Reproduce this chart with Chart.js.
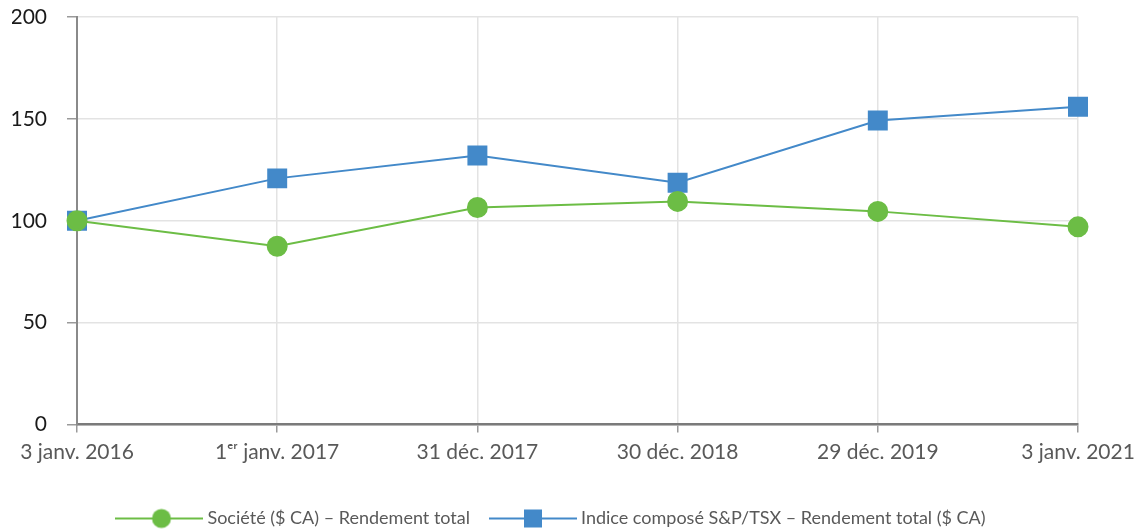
<!DOCTYPE html>
<html>
<head>
<meta charset="utf-8">
<script src="https://cdn.jsdelivr.net/npm/chart.js@4.4.1/dist/chart.umd.min.js"></script>
<style>
  html, body { margin: 0; padding: 0; background: #fff; }
  #wrap { width: 1140px; height: 531px; position: relative; }
</style>
</head>
<body>
<div id="wrap"><canvas id="chart"></canvas></div>
<script>
const dates = ['3 janv. 2016', '1ᵉʳ janv. 2017', '31 déc. 2017', '30 déc. 2018', '29 déc. 2019', '3 janv. 2021'];
const societe = [100, 87.5, 106.5, 109.5, 104.6, 97];
const tsx = [100, 120.8, 132, 118.7, 149.2, 156];
const yTicks = [0, 50, 100, 150, 200];

const GREEN = '#6cbd45';
const BLUE = '#4389c9';

// little line + marker image used as the legend sample
function legendSample(color, shape) {
  const c = document.createElement('canvas');
  c.width = 88; c.height = 22;
  const ctx = c.getContext('2d');
  ctx.strokeStyle = color;
  ctx.lineWidth = 2;
  ctx.beginPath();
  ctx.moveTo(0, 11); ctx.lineTo(88, 11);
  ctx.stroke();
  ctx.fillStyle = color;
  if (shape === 'circle') {
    ctx.beginPath();
    ctx.arc(46, 11, 9.5, 0, Math.PI * 2);
    ctx.fill();
  } else {
    ctx.fillRect(35, 2, 18, 18);
  }
  return c;
}
const samples = [legendSample(GREEN, 'circle'), legendSample(BLUE, 'rect')];

new Chart(document.getElementById('chart'), {
  type: 'line',
  data: {
    labels: dates,
    datasets: [{
      label: 'Société ($ CA) – Rendement total',
      data: societe,
      borderColor: GREEN,
      backgroundColor: GREEN,
      borderWidth: 2,
      pointStyle: 'circle',
      pointRadius: 9.5,
      pointHoverRadius: 9.5,
      tension: 0,
    }, {
      label: 'Indice composé S&P/TSX – Rendement total ($ CA)',
      data: tsx,
      borderColor: BLUE,
      backgroundColor: BLUE,
      borderWidth: 2,
      pointStyle: 'rect',
      pointRadius: 12.7,
      pointHoverRadius: 12.7,
      tension: 0,
    }]
  },
  options: {
    responsive: true, maintainAspectRatio: false,
    animation: false,
    layout: { autoPadding: false, padding: { top: 0, right: 46, bottom: -6.5, left: 12 } },
    plugins: {
      tooltip: { enabled: false },
      legend: {
        position: 'bottom',
        labels: {
          usePointStyle: true,
          pointStyleWidth: 78,
          padding: 24,
          color: '#595959',
          font: { family: 'Lato', size: 18 },
          generateLabels: chart => Chart.defaults.plugins.legend.labels.generateLabels(chart)
            .map((item, i) => ({ ...item, pointStyle: samples[i] })),
        }
      }
    },
    scales: {
      x: {
        offset: false,
        // leave room above the legend, keep the last label inside the canvas
        afterFit: s => { s.height = 61; s.paddingRight = 62; },
        grid: { color: '#e3e3e3', lineWidth: 1.5, tickColor: '#9a9a9a', tickLength: 8 },
        border: { display: true, color: '#7a7a7a', width: 2.5 },
        ticks: {
          color: '#595959',
          font: { family: 'Lato', size: 21 },
          padding: 7,
          maxRotation: 0,
          autoSkip: false,
        }
      },
      y: {
        min: 0, max: 200,
        afterBuildTicks: axis => { axis.ticks = yTicks.map(v => ({ value: v })); },
        afterFit: s => { s.width = 65; s.paddingTop = 17; },
        grid: { color: '#e3e3e3', lineWidth: 1.5, tickColor: '#9a9a9a', tickLength: 10 },
        border: { display: true, color: '#8a8a8a', width: 2 },
        ticks: {
          color: '#1a1a1a',
          font: { family: 'Lato', size: 21 },
          padding: 20,
        }
      }
    }
  }
});
</script>
</body>
</html>
